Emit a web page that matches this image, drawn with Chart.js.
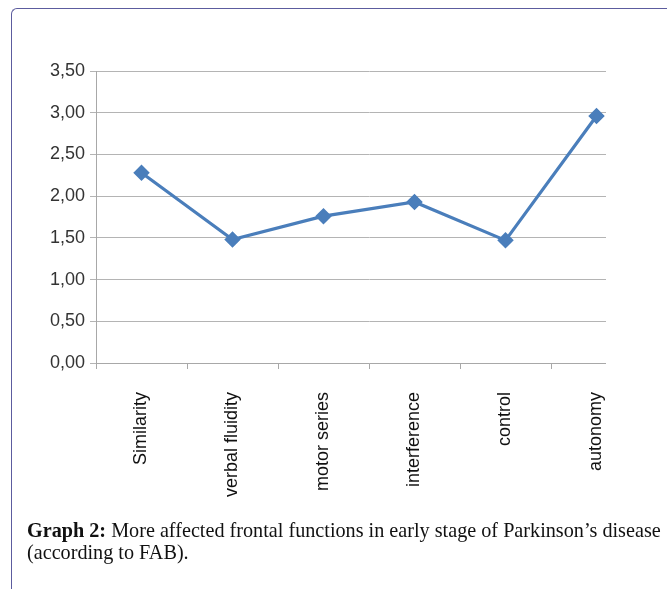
<!DOCTYPE html>
<html>
<head>
<meta charset="utf-8">
<script src="https://cdn.jsdelivr.net/npm/chart.js@4/dist/chart.umd.min.js"></script>
<style>
  html, body { margin: 0; padding: 0; background: #fff; width: 667px; height: 589px; overflow: hidden; }
  #frame { position: absolute; left: 11px; top: 8px; width: 700px; height: 640px;
           border-left: 1.5px solid #5c5c9e; border-top: 1.5px solid #5c5c9e; border-top-left-radius: 6px; }
  #clip { position: absolute; left: 0; top: 0; width: 606px; height: 520px; overflow: hidden; }
  #wrap { position: absolute; left: 0; top: 0; width: 660px; height: 520px; }
  #caption { position: absolute; left: 27px; top: 519px; width: 680px;
             font-family: "Liberation Serif", "Times New Roman", serif; font-size: 20.2px; line-height: 22px; color: #111; white-space: nowrap; }
</style>
</head>
<body>
<div id="frame"></div>
<div id="clip"><div id="wrap"><canvas id="c" width="660" height="520"></canvas></div></div>
<div id="caption"><b>Graph 2:</b> More affected frontal functions in early stage of Parkinson’s disease<br>(according to FAB).</div>
<script>
const categories = ["Similarity", "verbal fluidity", "motor series", "interference", "control", "autonomy"];
const values = [2.28, 1.48, 1.76, 1.93, 1.47, 2.96];
const yTicks = [0, 0.5, 1, 1.5, 2, 2.5, 3, 3.5];

new Chart(document.getElementById('c'), {
  type: 'line',
  data: {
    labels: categories,
    datasets: [{
      data: values,
      borderColor: '#4a7ebb',
      backgroundColor: '#4a7ebb',
      borderWidth: 3.2,
      pointStyle: 'rectRot',
      pointRadius: 6,
      pointHoverRadius: 6,
      pointBackgroundColor: '#4a7ebb',
      pointBorderColor: '#4a7ebb',
      tension: 0,
      fill: false
    }]
  },
  options: {
    responsive: false,
    animation: false,
    events: [],
    layout: { padding: { left: 0, top: 71, right: 18, bottom: 0 } },
    plugins: { legend: { display: false }, tooltip: { enabled: false } },
    scales: {
      x: {
        type: 'category',
        offset: true,
        grid: { offset: true, drawOnChartArea: false, drawTicks: true, tickLength: 6, color: '#a8a8a8' },
        border: { color: '#a8a8a8', width: 1 },
        ticks: { minRotation: 90, maxRotation: 90, autoSkip: false, padding: 23, color: '#111',
                 font: { family: 'Liberation Sans, Arial, sans-serif', size: 18 } },
        afterFit: (s) => { s.height = 157; }
      },
      y: {
        min: 0, max: 3.5,
        afterBuildTicks: (s) => { s.ticks = yTicks.map(v => ({ value: v })); },
        grid: { color: '#b4b4b4', lineWidth: 1, drawTicks: true, tickLength: 6 },
        border: { color: '#a8a8a8', width: 1 },
        ticks: { padding: 5, color: '#333',
                 font: { family: 'Liberation Sans, Arial, sans-serif', size: 18 },
                 callback: (v) => Number(v).toFixed(2).replace('.', ',') },
        afterFit: (s) => { s.width = 96; }
      }
    }
  }
});
</script>
</body>
</html>
